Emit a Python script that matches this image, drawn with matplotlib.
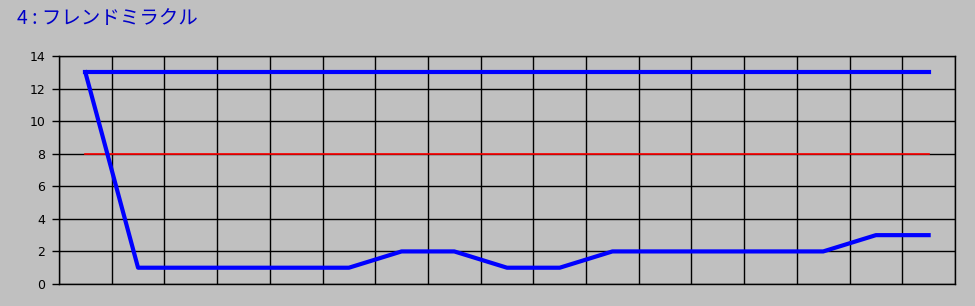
import matplotlib
matplotlib.use("Agg")
import matplotlib.pyplot as plt
import numpy as np

plt.rcParams['font.family'] = ['Noto Sans CJK JP', 'DejaVu Sans']

title = "4 : フレンドミラクル"
categories = list(range(1, 18))
upper = [13] * 17
reference = [8] * 17
lower = [13, 1, 1, 1, 1, 1, 2, 2, 1, 1, 2, 2, 2, 2, 2, 3, 3]
yticks = [0, 2, 4, 6, 8, 10, 12, 14]

bg = '#c0c0c0'
fig = plt.figure(figsize=(9.75, 3.06), dpi=100, facecolor=bg)
ax = fig.add_axes([59/975, 1-284/306, (955-59)/975, (284-56)/306])
ax.set_facecolor(bg)

x = np.arange(len(categories))
ax.plot(x, reference, color='#ff0000', lw=1.2, zorder=3)
ax.plot(x, upper, color='#0000ff', lw=3, zorder=4)
ax.plot(x, lower, color='#0000ff', lw=3, zorder=4)

ax.set_xlim(-0.5, len(categories) - 0.5)
ax.set_ylim(0, 14)
ax.set_yticks(yticks)
ax.set_yticklabels([str(v) for v in yticks], family='DejaVu Sans', fontsize=9)
ax.set_xticks(np.arange(len(categories) + 1) - 0.5, minor=False)
ax.set_xticklabels([])
ax.tick_params(axis='x', length=0)
ax.tick_params(axis='y', length=5, width=1, color='black', pad=5)
ax.grid(True, color='black', lw=1)
for s in ax.spines.values():
    s.set_color('black')
    s.set_linewidth(1)

fig.text(17/975, 1-8/306, title, color='#0000c8', fontsize=14, va='top', ha='left')

fig.savefig('out.png', dpi=100, facecolor=bg)
